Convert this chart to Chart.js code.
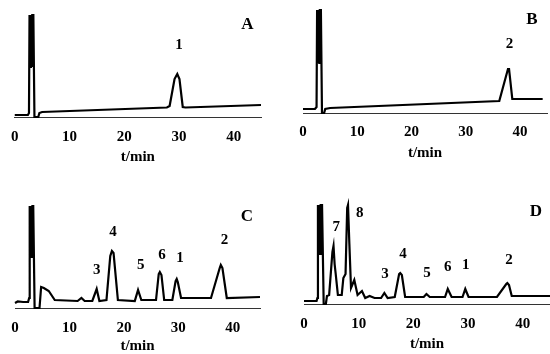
<!DOCTYPE html>
<html>
<head>
<meta charset="utf-8">
<script src="https://cdn.jsdelivr.net/npm/chart.js@4.4.0/dist/chart.umd.min.js"></script>
<style>
  body { margin: 0; background: #fff; }
  canvas { position: absolute; }
</style>
</head>
<body>
<canvas id="chartA" width="275" height="177" style="left:0;top:0"></canvas>
<canvas id="chartB" width="275" height="177" style="left:275px;top:0"></canvas>
<canvas id="chartC" width="275" height="177" style="left:0;top:177px"></canvas>
<canvas id="chartD" width="275" height="177" style="left:275px;top:177px"></canvas>
<script>
// retention time ticks (min)
const timeTicks = [0, 10, 20, 30, 40];

// detector signal, [t/min, response]
const traceA = [[0, 2], [2.4, 2], [2.6, 4], [2.7, 102], [2.85, 50], [2.95, 102], [3.1, 50], [3.2, 102], [3.4, 102], [3.6, 0], [4.3, 0], [4.5, 4], [5, 5],
  [27.8, 9.5], [28.3, 11], [29.2, 38], [29.7, 43], [30.1, 38], [30.7, 10], [31.2, 9.5], [45, 12]];

const traceB = [[0, 4], [2.2, 4], [2.5, 6], [2.6, 103], [2.75, 50], [2.85, 103], [3.0, 50], [3.1, 103], [3.3, 103], [3.5, 0], [3.9, 0], [4.1, 4], [5, 5],
  [36.2, 12], [37.8, 44], [38.0, 44], [38.6, 14], [44.2, 14]];

const traceC = [[0, 5], [0.5, 6.5], [1.5, 6], [2.4, 6], [2.6, 10], [2.7, 102], [2.85, 50], [2.95, 102], [3.1, 50], [3.2, 102], [3.35, 102], [3.6, 0], [4.5, 0],
  [4.8, 21], [5.3, 20], [6.2, 17], [7.3, 8], [11.5, 7], [12.2, 10], [12.8, 7], [14.2, 7], [15.0, 19], [15.5, 7],
  [16.8, 8], [17.5, 52], [17.8, 57], [18.1, 55], [18.9, 8], [22.0, 7], [22.6, 18], [23.2, 8], [25.9, 8],
  [26.4, 34], [26.6, 36], [26.9, 33], [27.4, 8], [28.9, 8], [29.5, 27], [29.7, 29], [29.9, 26], [30.5, 10], [36.0, 10],
  [37.6, 40], [37.8, 43], [38.1, 40], [38.9, 10], [45, 11]];

const traceD = [[0, 3], [2.3, 3], [2.45, 6], [2.55, 99], [2.7, 50], [2.8, 99], [2.95, 50], [3.05, 99], [3.3, 99], [3.6, 0], [4.0, 0], [4.2, 8], [4.6, 9],
  [5.2, 52], [5.4, 58], [5.6, 40], [5.8, 30], [6.2, 9], [6.9, 9], [7.2, 26], [7.6, 30], [7.9, 96], [8.05, 99], [8.3, 60],
  [8.6, 16], [9.2, 24], [9.8, 9], [10.6, 13], [11.2, 6], [12.0, 8], [12.9, 6], [14.1, 6], [14.7, 11], [15.3, 6],
  [16.6, 7], [17.4, 30], [17.6, 31], [17.9, 29], [18.5, 7], [21.9, 7], [22.4, 10], [23.0, 7], [25.8, 7], [26.3, 15], [27.0, 7],
  [29.0, 7], [29.5, 15], [30.1, 7], [35.3, 7], [37.0, 20], [37.2, 21], [37.5, 19], [38.0, 8], [45, 8]];

// peak numbers and panel letters, placed in data units (t, response)
const peaksA = [['1', 30.0, 72]];
const peaksB = [['2', 38.1, 69]];
const peaksC = [['3', 15.0, 38], ['4', 18.0, 76], ['5', 23.1, 43], ['6', 27.0, 53], ['1', 30.3, 50], ['2', 38.5, 68]];
const peaksD = [['7', 5.9, 77], ['8', 10.2, 91], ['3', 14.8, 30], ['4', 18.1, 50], ['5', 22.5, 31], ['6', 26.3, 37],
  ['1', 29.6, 39], ['2', 37.5, 44]];
const letters = [['A', 42.5, 92], ['B', 42.2, 93], ['C', 42.6, 91], ['D', 42.4, 92]];

const serif = '"Liberation Serif", "Times New Roman", serif';

const labelPlugin = {
  id: 'peakLabels',
  afterDatasetsDraw(chart, args, opts) {
    const { ctx, scales: { x, y } } = chart;
    ctx.save();
    ctx.fillStyle = '#000';
    ctx.textAlign = 'center';
    ctx.textBaseline = 'middle';
    ctx.font = 'bold 15px ' + serif;
    opts.peaks.forEach(p => ctx.fillText(p[0], x.getPixelForValue(p[1]), y.getPixelForValue(p[2])));
    ctx.font = 'bold 17px ' + serif;
    ctx.fillText(opts.letter[0], x.getPixelForValue(opts.letter[1]), y.getPixelForValue(opts.letter[2]));
    ctx.restore();
  }
};

function makeChart(id, trace, peaks, letter, L) {
  return new Chart(document.getElementById(id), {
    type: 'line',
    data: {
      datasets: [{
        data: trace.map(p => ({ x: p[0], y: p[1] })),
        borderColor: '#000',
        borderWidth: 2.2,
        pointRadius: 0,
        tension: 0,
        fill: false,
        clip: false
      }]
    },
    options: {
      responsive: false,
      animation: false,
      devicePixelRatio: 1,
      layout: { padding: { left: L.left, right: L.right, top: L.top, bottom: 0 } },
      plugins: {
        legend: { display: false },
        tooltip: { enabled: false },
        peakLabels: { peaks: peaks, letter: letter }
      },
      scales: {
        x: {
          type: 'linear',
          min: 0,
          max: 45,
          grid: { display: false, drawTicks: false },
          border: { display: true, color: '#333', width: 1 },
          afterBuildTicks: s => { s.ticks = timeTicks.map(v => ({ value: v })); },
          afterFit: s => { s.height = 177 - L.axisY; },
          ticks: {
            padding: L.tickPad,
            color: '#000',
            maxRotation: 0,
            autoSkip: false,
            font: { family: serif, size: 15, weight: 'bold' }
          },
          title: {
            display: true,
            text: 't/min',
            color: '#000',
            font: { family: serif, size: 15, weight: 'bold', lineHeight: 1 },
            padding: { top: 0, bottom: L.titlePad }
          }
        },
        y: { display: false, min: 0, max: L.ymax }
      }
    },
    plugins: [labelPlugin]
  });
}

makeChart('chartA', traceA, peaksA, letters[0], { left: 12, right: 14, top: 15, axisY: 117, ymax: 102, tickPad: 11, titlePad: 12.5 });
makeChart('chartB', traceB, peaksB, letters[1], { left: 28, right: 3, top: 10, axisY: 113, ymax: 103, tickPad: 9.7, titlePad: 16.5 });
makeChart('chartC', traceC, peaksC, letters[2], { left: 15, right: 15, top: 29, axisY: 131, ymax: 102, tickPad: 11, titlePad: 0 });
makeChart('chartD', traceD, peaksD, letters[3], { left: 29, right: 0, top: 28, axisY: 127, ymax: 99, tickPad: 11, titlePad: 2 });
</script>
</body>
</html>
